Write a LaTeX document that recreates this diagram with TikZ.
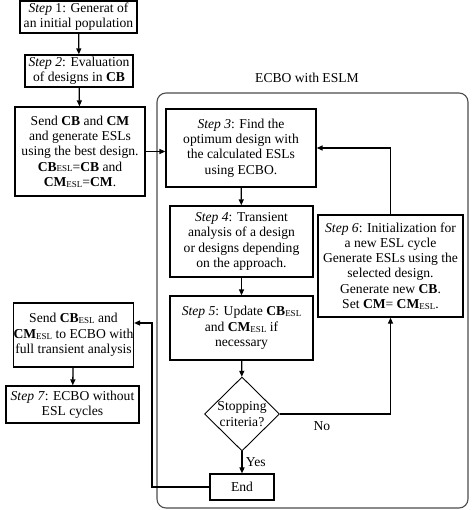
\documentclass[tikz,border=0pt]{standalone}
\usepackage{fontspec}
\setmainfont{Liberation Serif}
\usetikzlibrary{shapes.geometric,arrows.meta}

\newcommand{\esl}{\raisebox{-0.8pt}{\fontsize{9}{9}\selectfont ESL}}

\tikzset{
  stepbox/.style={draw,line width=1.3pt,align=center,inner sep=0pt},
  flow/.style={line width=1.3pt,-{Triangle[length=6pt,width=5pt]}},
  link/.style={line width=1.3pt},
}

\begin{document}
\begin{tikzpicture}[x=1pt,y=-1pt,font=\fontsize{13.6}{15.3}\selectfont]

\useasboundingbox (0,0) rectangle (474,510);

% The ESLM frame
\draw[gray!60!black,line width=1.1pt,rounded corners=9pt] (157,93) rectangle (468,508);
\node (frametitle) at (307,78) {ECBO with ESLM};

% Steps outside the frame
\node[stepbox,minimum width=117pt,minimum height=32pt] (init) at (78.5,17)
  {\textit{Step} 1: Generat of\\an initial population};
\node[stepbox,minimum width=108pt,minimum height=32pt] (eval) at (79,71)
  {\textit{Step 2}: Evaluation\\of designs in \textbf{CB}};
\node[stepbox,minimum width=130pt,minimum height=89pt] (send) at (80,151.5)
  {Send \textbf{CB} and \textbf{CM}\\and generate ESLs\\using the best design.\\
   \textbf{CB}\esl=\textbf{CB} and\\\textbf{CM}\esl=\textbf{CM}.};
\node[stepbox,minimum width=119pt,minimum height=64pt] (sendesl) at (73.5,335)
  {Send \textbf{CB}\esl{} and\\\textbf{CM}\esl{} to ECBO with\\full transient analysis};
\node[stepbox,minimum width=133pt,minimum height=37pt] (final) at (72.5,404.5)
  {\textit{Step 7}: ECBO without\\ESL cycles};

% Steps inside the frame
\node[stepbox,minimum width=150pt,minimum height=78pt] (optim) at (241,148)
  {\textit{Step 3}: Find the\\optimum design with\\the calculated ESLs\\using ECBO.};
\node[stepbox,minimum width=143pt,minimum height=71pt] (trans) at (241.5,241.5)
  {\textit{Step 4}: Transient\\analysis of a design\\or designs depending\\on the approach.};
\node[stepbox,minimum width=143pt,minimum height=64pt] (update) at (241.5,328)
  {\textit{Step 5}: Update \textbf{CB}\esl\\and \textbf{CM}\esl{} if\\necessary};
\node[stepbox,minimum width=145pt,minimum height=102pt] (cycle) at (390.5,266)
  {\textit{Step 6}: Initialization for\\a new ESL cycle\\Generate ESLs using the\\
   selected design.\\Generate new \textbf{CB}.\\Set \textbf{CM}= \textbf{CM}\esl.};
\node[draw,diamond,line width=0.9pt,align=center,inner sep=0pt,
  minimum width=75pt,minimum height=74pt] (stop) at (242,414) {Stopping\\criteria?};
\node[draw,line width=1.1pt,minimum width=64pt,minimum height=26pt,inner sep=0pt]
  (finish) at (242,487) {End};

% Connectors
\draw[flow] (init) -- (eval);
\draw[flow] (eval) -- (send);
\draw[flow] (send.east) -- (send.east -| optim.west);
\draw[flow] (optim) -- (trans);
\draw[flow] (trans) -- (update);
\draw[flow] (update) -- (stop);
\draw[flow] (stop.east) -| node[pos=0.19,below=4pt] (nolabel) {No} (cycle.south);
\draw[flow] (cycle.north) |- (optim.east);
\draw[flow] (stop.south) -- node[right] (yeslabel) {Yes} (finish.north);
\coordinate (back) at (152,323);
\draw[flow] (finish.west) -| (back) -- (back -| sendesl.east);
\draw[flow] (sendesl) -- (final);

\end{tikzpicture}
\end{document}
